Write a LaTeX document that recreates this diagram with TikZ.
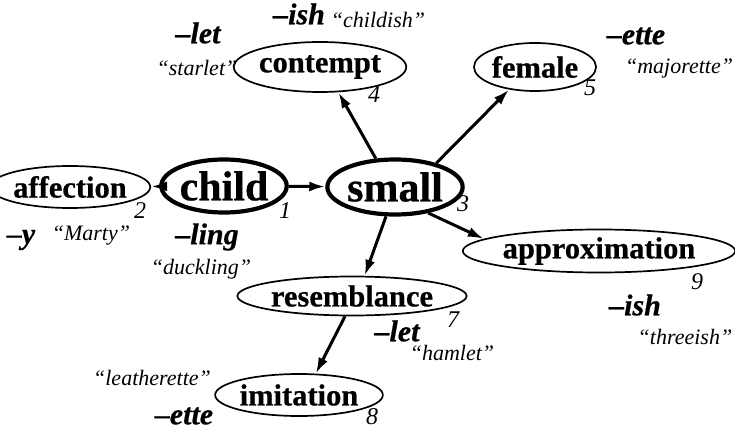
\documentclass[tikz,border=0pt]{standalone}
\usepackage{fontspec}
\setmainfont{Liberation Serif}[BoldFeatures={FakeBold=0.6},BoldItalicFeatures={FakeBold=0.6}]
\usetikzlibrary{shapes.geometric,arrows.meta}

\begin{document}
\begin{tikzpicture}[x=1pt,y=-1pt,
    oval/.style={ellipse,draw,line width=1.7pt,inner sep=0pt,font=\fontsize{30.5}{30}\selectfont\bfseries},
    core/.style={oval,line width=4.2pt,font=\fontsize{42}{42}\selectfont\bfseries},
    arr/.style={line width=3pt,-{Latex[length=16pt,width=10pt]}},
    num/.style={font=\fontsize{24}{24}\selectfont\itshape},
    suf/.style={font=\fontsize{30}{30}\selectfont\bfseries\itshape},
    ex/.style={font=\fontsize{22}{22}\selectfont\itshape}]
    \useasboundingbox (0,0) rectangle (735,435);
    % meanings
    \node[core, minimum width=113pt, minimum height=53pt] (child) at (224,186) {child};
    \node[core, minimum width=116pt, minimum height=55pt] (small) at (395,187) {small};
    \node[oval, minimum width=135pt, minimum height=42pt] (affection) at (70,187) {affection};
    \node[oval, minimum width=144pt, minimum height=50pt] (contempt) at (320,67) {contempt};
    \node[oval, minimum width=101pt, minimum height=48pt] (female) at (535,67) {female};
    \node[oval, minimum width=232pt, minimum height=43pt] (approximation) at (599,251) {approximation};
    \node[oval, minimum width=193pt, minimum height=39pt] (resemblance) at (352,296) {resemblance};
    \node[oval, minimum width=146pt, minimum height=42pt] (imitation) at (299,395) {imitation};
    % numbers
    \node[num] (n1) at (285,211) {1};
    \node[num] (n2) at (140,211) {2};
    \node[num] (n3) at (463,204) {3};
    \node[num] (n4) at (374,95) {4};
    \node[num] (n5) at (590,88) {5};
    \node[num] (n7) at (453,320) {7};
    \node[num] (n8) at (372,417) {8};
    \node[num] (n9) at (697,282) {9};
    % suffixes and examples
    \node[suf] (let1) at (198,33) {--let};
    \node[ex] (starlet) at (197,68) {``starlet''};
    \node[suf] (ish1) at (299,14) {--ish};
    \node[ex] (childish) at (378,20) {``childish''};
    \node[suf] (ette1) at (636,36) {--ette};
    \node[ex] (majorette) at (679,69) {``majorette''};
    \node[suf] (y) at (21,240) {--y};
    \node[ex] (marty) at (91,236) {``Marty''};
    \node[suf] (ling) at (207,237) {--ling};
    \node[ex] (duckling) at (201,269) {``duckling''};
    \node[suf] (let2) at (397,331) {--let};
    \node[ex] (hamlet) at (452,353) {``hamlet''};
    \node[suf] (ish2) at (635,305) {--ish};
    \node[ex] (threeish) at (685,337) {``threeish''};
    \node[ex] (leatherette) at (152,378) {``leatherette''};
    \node[suf] (ette2) at (184,416) {--ette};
    % links
    \draw[arr] (child) -- (affection);
    \draw[arr] (child) -- (small);
    \draw[arr] (small.124) -- (contempt.-54);
    \draw[arr] (small.30) -- (female.-139);
    \draw[arr] (small.-38) -- (approximation.174);
    \draw[arr] (small.-107) -- (resemblance.58);
    \draw[arr] (resemblance.-109) -- (imitation.52);
\end{tikzpicture}
\end{document}
